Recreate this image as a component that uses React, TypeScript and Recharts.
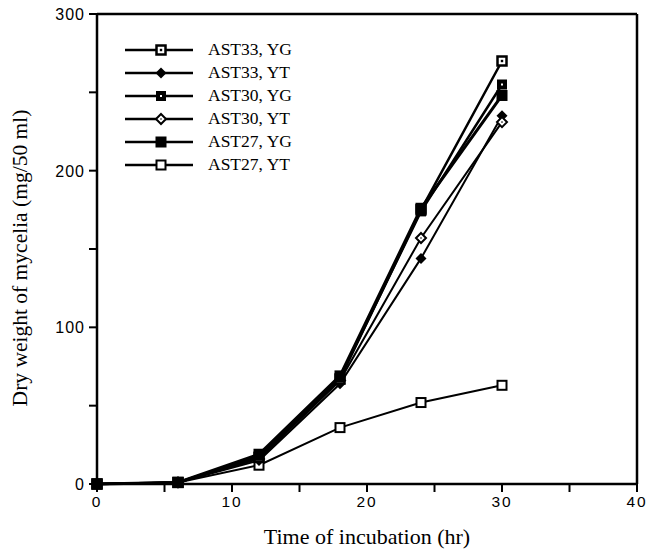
import { LineChart, Line, XAxis, YAxis, ReferenceLine } from 'recharts'

// incubation time (hr) and dry weight of mycelia (mg/50 ml)
const hours = [0, 6, 12, 18, 24, 30]
const ast33YG = [0, 1, 17, 67, 175, 270]
const ast33YT = [0, 1, 15, 64, 144, 235]
const ast30YG = [0, 1, 18, 68, 174, 255]
const ast30YT = [0, 1, 16, 66, 157, 231]
const ast27YG = [0, 1, 19, 69, 176, 248]
const ast27YT = [0, 1, 12, 36, 52, 63]

const seriesNames = ['AST33, YG', 'AST33, YT', 'AST30, YG', 'AST30, YT', 'AST27, YG', 'AST27, YT']
const xTicks = [0, 5, 10, 15, 20, 25, 30, 35, 40]
const yTicks = [0, 50, 100, 150, 200, 250, 300]

const data = hours.map((h, i) => ({
  hr: h,
  ast33YG: ast33YG[i],
  ast33YT: ast33YT[i],
  ast30YG: ast30YG[i],
  ast30YT: ast30YT[i],
  ast27YG: ast27YG[i],
  ast27YT: ast27YT[i],
}))

type Kind = 'squareDot' | 'diamond' | 'squareFillDot' | 'diamondOpen' | 'squareFill' | 'squareOpen'

const series: { key: string; name: string; kind: Kind; width: number }[] = [
  { key: 'ast27YT', name: seriesNames[5], kind: 'squareOpen', width: 2 },
  { key: 'ast33YT', name: seriesNames[1], kind: 'diamond', width: 2 },
  { key: 'ast30YT', name: seriesNames[3], kind: 'diamondOpen', width: 2 },
  { key: 'ast33YG', name: seriesNames[0], kind: 'squareDot', width: 2.5 },
  { key: 'ast30YG', name: seriesNames[2], kind: 'squareFillDot', width: 2.5 },
  { key: 'ast27YG', name: seriesNames[4], kind: 'squareFill', width: 3 },
]

const legendOrder = ['ast33YG', 'ast33YT', 'ast30YG', 'ast30YT', 'ast27YG', 'ast27YT']

function Marker({ kind, cx, cy }: { kind: Kind; cx: number; cy: number }) {
  switch (kind) {
    case 'squareOpen':
      return <rect x={cx - 4.5} y={cy - 4.5} width={9} height={9} fill="#fff" stroke="#000" strokeWidth={2} />
    case 'squareDot':
      return (
        <g>
          <rect x={cx - 4.5} y={cy - 4.5} width={9} height={9} fill="#fff" stroke="#000" strokeWidth={2.5} />
          <rect x={cx - 1.2} y={cy - 1.2} width={2.4} height={2.4} fill="#000" />
        </g>
      )
    case 'squareFill':
      return <rect x={cx - 5.5} y={cy - 5.5} width={11} height={11} fill="#000" />
    case 'squareFillDot':
      return (
        <g>
          <rect x={cx - 5} y={cy - 5} width={10} height={10} fill="#000" />
          <rect x={cx - 1} y={cy - 1} width={2} height={2} fill="#fff" />
        </g>
      )
    case 'diamond':
      return <polygon points={`${cx},${cy - 5.5} ${cx + 5.5},${cy} ${cx},${cy + 5.5} ${cx - 5.5},${cy}`} fill="#000" />
    case 'diamondOpen':
      return (
        <g>
          <polygon
            points={`${cx},${cy - 5} ${cx + 5},${cy} ${cx},${cy + 5} ${cx - 5},${cy}`}
            fill="#fff"
            stroke="#000"
            strokeWidth={2}
          />
          <circle cx={cx} cy={cy} r={0.8} fill="#000" />
        </g>
      )
  }
}

function XTick({ x, y, payload }: any) {
  if (payload.value % 10 !== 0) return null
  return (
    <text x={x} y={y + 13} textAnchor="middle" fontFamily="Liberation Sans, Arial, sans-serif" fontSize={15.5} letterSpacing={2} fill="#000">
      {payload.value}
    </text>
  )
}

function YTick({ x, y, payload }: any) {
  if (payload.value % 100 !== 0) return null
  return (
    <text x={x - 2} y={y + 6} textAnchor="end" fontFamily="Liberation Sans, Arial, sans-serif" fontSize={16} letterSpacing={1} fill="#000">
      {payload.value}
    </text>
  )
}

function LegendBox() {
  return (
    <div
      style={{
        position: 'absolute',
        left: 125,
        top: 38,
        fontFamily: 'Liberation Serif, Times New Roman, serif',
        fontSize: 17.5,
      }}
    >
      {legendOrder.map((k) => {
        const s = series.find((d) => d.key === k)!
        return (
          <div key={k} style={{ display: 'flex', alignItems: 'center', height: 23 }}>
            <svg width={68} height={14}>
              <line x1={0} y1={7} x2={68} y2={7} stroke="#000" strokeWidth={2.5} />
              <Marker kind={s.kind} cx={36} cy={7} />
            </svg>
            <span style={{ marginLeft: 15 }}>{s.name}</span>
          </div>
        )
      })}
    </div>
  )
}

export default function App() {
  return (
    <div style={{ position: 'absolute', left: 0, top: 0, width: 648, height: 550, background: '#fff' }}>
      <LineChart width={648} height={550} data={data} margin={{ top: 14, right: 11, left: 0, bottom: 0 }}>
        <XAxis
          dataKey="hr"
          type="number"
          domain={[0, 40]}
          ticks={xTicks}
          interval={0}
          tickSize={8}
          height={66}
          stroke="#000"
          strokeWidth={2.5}
          tickLine={{ stroke: '#000', strokeWidth: 2 }}
          tick={<XTick />}
          label={{
            content: () => (
              <text x={367} y={544} textAnchor="middle" fontFamily="Liberation Serif, Times New Roman, serif" fontSize={22} fill="#000">
                Time of incubation (hr)
              </text>
            ),
          }}
        />
        <YAxis
          type="number"
          domain={[0, 300]}
          ticks={yTicks}
          interval={0}
          tickSize={8}
          width={97}
          stroke="#000"
          strokeWidth={2.5}
          tickLine={{ stroke: '#000', strokeWidth: 2 }}
          tick={<YTick />}
          label={{
            content: () => (
              <text
                x={27}
                y={258}
                transform="rotate(-90 27 258)"
                textAnchor="middle"
                fontFamily="Liberation Serif, Times New Roman, serif"
                fontSize={21.5}
                fill="#000"
              >
                Dry weight of mycelia (mg/50 ml)
              </text>
            ),
          }}
        />
        <ReferenceLine y={300} stroke="#000" strokeWidth={2.5} />
        <ReferenceLine x={40} stroke="#000" strokeWidth={2.5} />
        {series.map((s) => (
          <Line
            key={s.key}
            dataKey={s.key}
            name={s.name}
            stroke="#000"
            strokeWidth={s.width}
            isAnimationActive={false}
            dot={(p: any) => <Marker key={`${s.key}-${p.index}`} kind={s.kind} cx={p.cx} cy={p.cy} />}
            activeDot={false}
          />
        ))}
      </LineChart>
      <LegendBox />
    </div>
  )
}
